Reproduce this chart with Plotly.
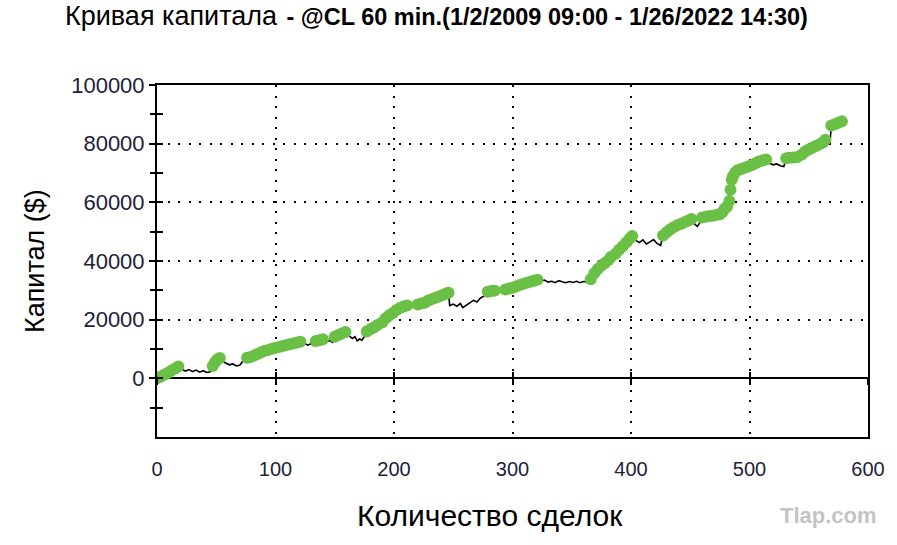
import plotly.graph_objects as go

# ---- data ----
trades = [0, 3, 6, 9, 12, 15, 18, 21, 24, 27, 30, 33, 36, 39, 42, 45, 47, 49, 51, 53,
          55, 58, 61, 64, 67, 70, 72, 74, 76, 79, 82, 85, 88, 91, 94, 97, 100, 103, 106,
          109, 112, 115, 118, 121, 124, 127, 130, 132, 134, 137, 140, 143, 146, 148, 150,
          153, 156, 159, 162, 165, 167, 169, 171, 173, 175, 177, 180, 183, 186, 188, 190,
          193, 196, 199, 202, 205, 208, 211, 214, 217, 220, 223, 226, 229, 232, 235, 238,
          241, 244, 246, 247, 250, 253, 256, 258, 261, 264, 267, 270, 273, 276, 279, 282,
          285, 288, 291, 294, 297, 300, 303, 306, 309, 312, 315, 318, 321, 324, 327, 330,
          333, 336, 339, 342, 345, 348, 351, 354, 357, 360, 363, 366, 369, 372, 375, 378,
          381, 383, 385, 387, 390, 393, 396, 399, 401, 404, 407, 410, 413, 416, 419, 422,
          425, 427, 430, 433, 436, 439, 442, 445, 448, 451, 453, 456, 458, 460, 463, 466,
          469, 472, 475, 477, 479, 481, 483, 484, 485, 486, 488, 490, 493, 496, 499, 502,
          505, 508, 511, 514, 517, 520, 523, 526, 529, 531, 534, 537, 540, 542, 544, 547,
          550, 553, 556, 559, 562, 564, 566, 568, 569, 572, 575, 578]
equity = [0, 500, 1200, 1800, 2600, 3300, 4000, 3100, 2500, 3000, 2300, 2800, 2100, 2600, 2000, 2200, 4200, 5500, 6500, 6900,
          5800, 5200, 4600, 4900, 4200, 4500, 5600, 6200, 7000, 7300, 7800, 8300, 8900, 9400, 9700, 10100, 10400, 10700, 11000,
          11300, 11600, 11900, 12200, 12500, 12100, 11300, 11800, 11200, 12700, 13000, 13300, 12500, 12900, 12300, 14200,
          14800, 15300, 15800, 14500, 13600, 14200, 12800, 13400, 13000, 14300, 16000, 16700, 17300, 18200, 17600, 19000,
          20500, 21500, 22300, 23300, 24000, 24500, 24800, 24400, 24600, 25200, 25500, 25800, 26500, 27000, 27500, 27900,
          28400, 28900, 29200, 24800, 25300, 24600, 25500, 24100, 25000, 25900, 26600, 26000, 27400, 28000, 29500, 29800,
          29900, 29400, 29700, 30300, 30600, 30900, 31300, 31800, 32200, 32600, 32900, 33300, 33600, 33200, 33500, 32800,
          33100, 32600, 33300, 32900, 32600, 33000, 32700, 33100, 32600, 33000, 32800, 33800, 35800, 37300, 38400, 39300,
          40300, 41400, 40400, 42500, 43800, 45000, 46300, 47700, 48500, 47000, 46300, 47200, 45800, 46500, 47300, 46000,
          45300, 48700, 49800, 50700, 51500, 52200, 52600, 53200, 53700, 54300, 52800, 51800, 53000, 54800, 55100, 55300,
          55400, 55700, 55900, 56600, 57800, 58500, 60500, 64300, 67700, 68900, 70200, 70900, 71400, 71800, 72200, 72700,
          73300, 73900, 74300, 74600, 73300, 72800, 73100, 72500, 72200, 75000, 75200, 75300, 75400, 74900, 76200, 77300,
          78000, 78600, 79200, 79800, 80400, 81300, 80200, 80600, 86200, 86600, 87100, 87600]

x_ticks = [0, 100, 200, 300, 400, 500, 600]
y_ticks = [0, 20000, 40000, 60000, 80000, 100000]
y_minor = [-10000, 0, 10000, 20000, 30000, 40000, 50000, 60000, 70000, 80000, 90000, 100000]

title_main = "Кривая капитала"
title_sub = "- @CL 60 min.(1/2/2009 09:00 - 1/26/2022 14:30)"
x_title = "Количество сделок"
y_title = "Капитал ($)"
watermark = "Tlap.com"

GREEN = "#6abf45"
LABEL = "#1e1e3a"

# new equity highs are drawn as green dots
hx, hy = [], []
peak = float("-inf")
for t, e in zip(trades, equity):
    if e >= peak:
        hx.append(t)
        hy.append(e)
        peak = e

fig = go.Figure()
fig.add_trace(go.Scatter(x=trades, y=equity, mode="lines",
                         line=dict(color="black", width=1.6), showlegend=False,
                         hoverinfo="skip"))
fig.add_trace(go.Scatter(x=hx, y=hy, mode="markers",
                         marker=dict(color=GREEN, size=12, line=dict(width=0)),
                         showlegend=False))
# helper (empty) traces so the extra tick axes are drawn
fig.add_trace(go.Scatter(x=[None], y=[None], xaxis="x2", yaxis="y2", showlegend=False, hoverinfo="skip"))
fig.add_trace(go.Scatter(x=[None], y=[None], xaxis="x3", yaxis="y3", showlegend=False, hoverinfo="skip"))

XR = [0, 600]
YR = [-20000, 100000]
grid = dict(showgrid=True, gridcolor="black", gridwidth=1.6, griddash="2px,8.5px")

fig.update_layout(
    width=897, height=545,
    margin=dict(l=157, r=29, t=85, b=108),
    paper_bgcolor="white", plot_bgcolor="white",
    font=dict(family="Liberation Sans, Arial, sans-serif", color=LABEL),
    xaxis=dict(range=XR, tickmode="array", tickvals=x_ticks, ticks="",
               ticklabelstandoff=13,
               tickfont=dict(size=20, color=LABEL),
               showline=True, linecolor="black", linewidth=2, mirror=True,
               zeroline=False, fixedrange=True, **grid),
    yaxis=dict(range=YR, tickmode="array", tickvals=y_ticks, ticks="outside",
               tickformat="d",
               ticklen=6, tickwidth=1.6, tickcolor="black",
               tickfont=dict(size=22, color=LABEL),
               showline=True, linecolor="black", linewidth=2, mirror=True,
               zeroline=True, zerolinecolor="black", zerolinewidth=2,
               fixedrange=True, **grid),
    # crossing ticks on the zero line (x) and on the left axis (y)
    xaxis2=dict(range=XR, overlaying="x", anchor="free", position=1/6, side="bottom",
                tickmode="array", tickvals=x_ticks, ticks="outside", ticklen=6,
                tickwidth=1.6, tickcolor="black", showticklabels=False,
                showgrid=False, zeroline=False, showline=False),
    xaxis3=dict(range=XR, overlaying="x", anchor="free", position=1/6, side="bottom",
                tickmode="array", tickvals=x_ticks, ticks="inside", ticklen=6,
                tickwidth=1.6, tickcolor="black", showticklabels=False,
                showgrid=False, zeroline=False, showline=False),
    yaxis2=dict(range=YR, overlaying="y", anchor="x2", side="left",
                tickmode="array", tickvals=y_minor, ticks="outside", ticklen=6,
                tickwidth=1.6, tickcolor="black", showticklabels=False,
                showgrid=False, zeroline=False, showline=False),
    yaxis3=dict(range=YR, overlaying="y", anchor="x3", side="left",
                tickmode="array", tickvals=y_minor, ticks="inside", ticklen=6,
                tickwidth=1.6, tickcolor="black", showticklabels=False,
                showgrid=False, zeroline=False, showline=False),
    title=dict(
        text=(f"<span style='font-size:27px'>{title_main}</span>  "
              f"<b><span style='font-size:23.5px'>{title_sub}</span></b>"),
        x=65 / 897, xanchor="left", xref="container",
        y=1 - 19 / 545, yanchor="middle", yref="container",
        font=dict(family="Liberation Sans, Arial, sans-serif", color="black"),
    ),
    annotations=[
        dict(text=y_title, xref="paper", yref="paper", x=(35 - 157) / 711, y=0.5,
             textangle=-90, showarrow=False, xanchor="center", yanchor="middle",
             font=dict(size=27, color="black")),
        dict(text=x_title, xref="paper", yref="paper", x=(490 - 157) / 711,
             y=(437 - 515) / 352, showarrow=False, xanchor="center", yanchor="middle",
             font=dict(size=30, color="black")),
        dict(text=f"<b>{watermark}</b>", xref="paper", yref="paper", x=(828 - 157) / 711,
             y=(437 - 515) / 352, showarrow=False, xanchor="center", yanchor="middle",
             font=dict(size=22, color="#c4c4c4")),
    ],
)

fig.write_html("out.html")
